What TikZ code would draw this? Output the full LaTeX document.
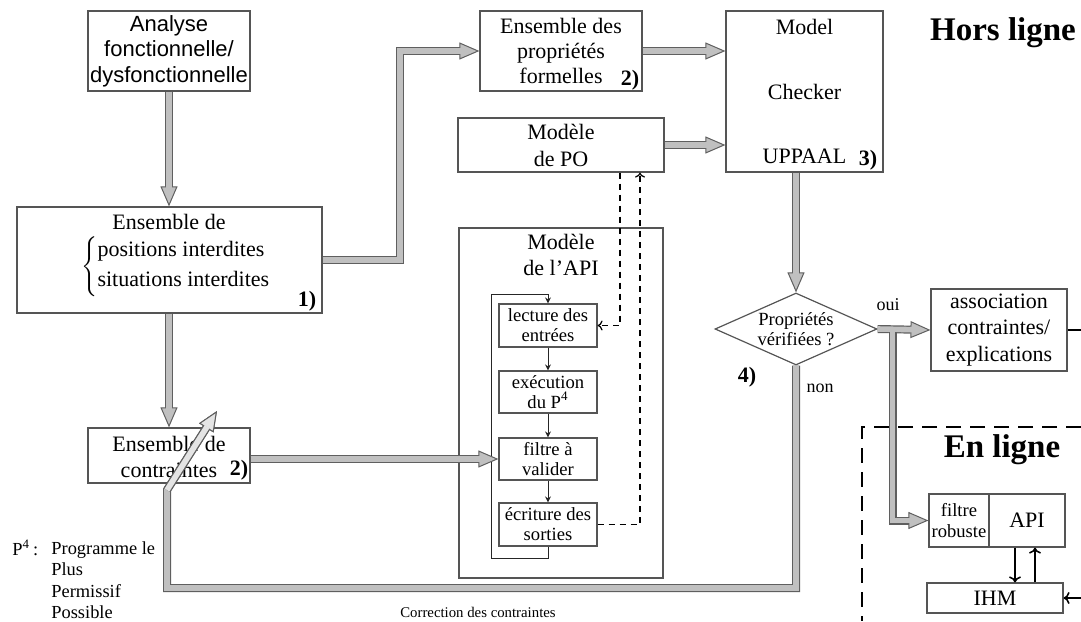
\documentclass[tikz,border=0pt]{standalone}
\usepackage{fontspec}
\setmainfont{Liberation Serif}
\newfontfamily\arialf{Liberation Sans}
\usetikzlibrary{arrows.meta,shapes.geometric}
\definecolor{pipefill}{RGB}{192,192,192}
\definecolor{pipelight}{RGB}{228,228,228}
\definecolor{pipeedge}{RGB}{95,95,95}
\definecolor{boxc}{RGB}{85,85,85}
\begin{document}
\begin{tikzpicture}[x=0.5pt,y=-0.5pt,
  box/.style={draw=boxc,line width=0.6pt,inner sep=0pt,align=center,font=\fontsize{11}{12.6}\selectfont},
  sbox/.style={box,font=\fontsize{9.3}{10}\selectfont},
  lbl/.style={inner sep=0pt,font=\fontsize{11}{12}\selectfont},
  num/.style={inner sep=0pt,font=\fontsize{11}{12}\selectfont\bfseries},
  big/.style={inner sep=0pt,font=\fontsize{16.5}{18}\selectfont\bfseries},
  pipeof/.style={draw=pipeedge,line width=4pt,line join=miter,
    -{Triangle[length=10pt,width=8.5pt,line width=0.5pt,fill=#1]},
    postaction={draw=#1,line width=2.8pt,shorten >=9.3pt,-}},
  pipe/.style={pipeof=pipefill},
  pipelite/.style={pipeof=pipelight},
  flow/.style={draw=black!85,line width=0.5pt,-{Stealth[length=3pt,width=3pt]}},
  dashy/.style={draw=black,line width=0.6pt,dash pattern=on 3pt off 2.5pt,-{To[length=2.5pt,width=5pt]}},
  hmi/.style={draw=black,line width=0.8pt,-{To[length=3pt,width=6pt]}}]
\useasboundingbox (0,0) rectangle (1081,621);

\node[box,font=\arialf\fontsize{11}{12.8}\selectfont,minimum width=81pt,minimum height=40pt] (ana) at (169,51) {Analyse\\fonctionnelle/\\dysfonctionnelle};

\node[box,minimum width=152.5pt,minimum height=53pt] (pos) at (169.5,260) {};
\node[lbl] (posa) at (169,222) {Ensemble de};
\node[lbl,anchor=west] (posb) at (81,266.5) {$\left\{\begin{tabular}{@{}l@{}}positions interdites\\[3.3pt]situations interdites\end{tabular}\right.$};
\node[num] (posn) at (307,301) {1)};

\node[box,minimum width=81pt,minimum height=27.5pt] (con) at (169,455.5) {};
\node[lbl] (cona) at (169,444) {Ensemble de};
\node[lbl] (conb) at (169,470) {contraintes};
\node[num] (conn) at (239,470) {2)};

\node[box,minimum width=81pt,minimum height=40pt] (prop) at (561,51) {Ensemble des\\propriétés\\formelles};
\node[num] (propn) at (630,80) {2)};

\node[box,minimum width=103pt,minimum height=27pt,font=\fontsize{11}{13.5}\selectfont] (po) at (561,145) {Modèle\\de PO};

\node[box,minimum width=78.5pt,minimum height=80.5pt,font=\fontsize{11}{32.2}\selectfont] (mc) at (804.5,91.5) {Model\\Checker\\UPPAAL};
\node[num] (mcn) at (868,160) {3)};

\node[big] (hors) at (1003,33) {Hors ligne};

\node[box,minimum width=102pt,minimum height=175pt] (api) at (561,403) {};
\node[lbl,align=center,font=\fontsize{11}{13}\selectfont] (apit) at (561,255) {Modèle\\de l’API};
\node[sbox,minimum width=49pt,minimum height=21.5pt] (lec) at (548,325.5) {lecture des\\entrées};
\node[sbox,minimum width=49pt,minimum height=21pt] (exe) at (548,392) {exécution\\du P\textsuperscript{4}};
\node[sbox,minimum width=49pt,minimum height=21pt] (fil) at (548,459) {filtre à\\valider};
\node[sbox,minimum width=49pt,minimum height=21.5pt] (ecr) at (548,524.5) {écriture des\\sorties};

\path[flow] (lec.south) -- (exe.north);
\path[flow] (exe.south) -- (fil.north);
\path[flow] (fil.south) -- (ecr.north);
\path[flow] (ecr.south) -- ++(0,12) -| (491,294) -| (lec.north);

\path[dashy] ([xshift=29.5pt]po.south) |- (lec.east);
\path[dashy] (ecr.east) -| ([xshift=39.5pt]po.south);

\node[diamond,draw=boxc,line width=0.6pt,inner sep=0pt,aspect=2.25,minimum width=81pt,minimum height=36pt,align=center,font=\fontsize{9.3}{10}\selectfont] (dia) at (796,329) {Propriétés\\vérifiées ?};
\node[lbl,font=\fontsize{9}{10}\selectfont] (oui) at (888,305) {oui};
\node[lbl,font=\fontsize{9}{10}\selectfont] (non) at (820,388) {non};
\node[num] (dian) at (747,377) {4)};

\node[box,minimum width=68pt,minimum height=41pt,font=\fontsize{11}{13.2}\selectfont] (asso) at (999,330) {association\\contraintes/\\explications};
\coordinate (assout) at (1081,330);
\path[draw=black,line width=0.6pt] (asso.east) -- (assout);

\path[draw=black,line width=1.2pt,dash pattern=on 7.5pt off 4.5pt] (1081,427) -- (862,427) -- (862,621);
\node[big] (en) at (1002,450) {En ligne};

\node[box,minimum width=30pt,minimum height=26.5pt,font=\fontsize{9.3}{10.5}\selectfont] (rob) at (959,520.5) {filtre\\robuste};
\node[box,minimum width=38pt,minimum height=26.5pt] (apir) at (1027,520.5) {API};
\node[box,minimum width=68pt,minimum height=15pt] (ihm) at (995,598) {IHM};
\path[hmi] ([xshift=-6pt]apir.south) -- ([xshift=-6pt]apir.south |- ihm.north);
\path[hmi] ([xshift=4pt]apir.south |- ihm.north) -- ([xshift=4pt]apir.south);
\coordinate (ihmin) at (1081,598);
\path[hmi] (ihmin) -- (ihm.east);

\node[lbl,anchor=west,font=\fontsize{9.2}{10.7}\selectfont] (pfour) at (12,548) {P\textsuperscript{4}\,:};
\node[lbl,anchor=west,align=left,font=\fontsize{9.2}{10.7}\selectfont] (pleg) at (51,580) {Programme le\\Plus\\Permissif\\Possible};
\node[lbl,font=\fontsize{7.4}{8}\selectfont] (corrt) at (478,612) {Correction des contraintes};

\path[pipe] (ana.south) -- (ana.south |- pos.north);
\path[pipe] (pos.south -| con.north) -- (con.north);
\path[pipe] (pos.east) -| (400,51) -- (prop.west);
\path[pipe] (prop.east) -- (mc.west |- prop.east);
\path[pipe] (po.east) -- (mc.west |- po.east);
\path[pipe] (dia.north |- mc.south) -- (dia.north);
\path[pipe] (con.east |- fil.west) -- (fil.west);
\path[pipe] (dia.east) -- (asso.west);
\path[pipe] ([xshift=7.5pt,yshift=-1.5pt]dia.east) |- (rob.west);
\coordinate (corr) at (217,411);
\path[pipe] (dia.south) |- (167,588) -- (167,490) -- (corr);
\path[pipelite] (167,490) -- (corr);
\end{tikzpicture}
\end{document}
